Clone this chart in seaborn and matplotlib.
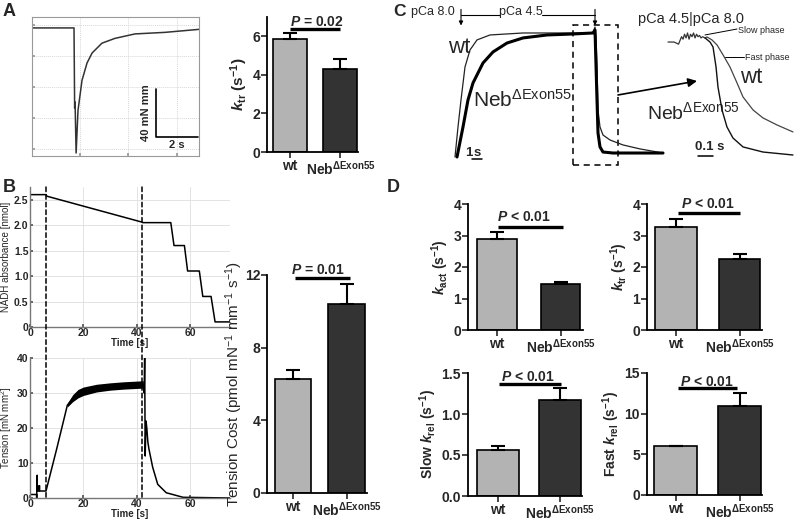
import numpy as np
import matplotlib
matplotlib.use("Agg")
import matplotlib.pyplot as plt
from matplotlib.patches import Rectangle, ConnectionPatch
import seaborn as sns

# ---------------- data ----------------
GROUPS = ["wt", "Neb"]
BAR_COLORS = ["#b3b3b3", "#333333"]
NEB_TICK = r"Neb$^{\mathbf{ΔExon55}}$"

ktr_a = [5.85, 4.3]
ktr_a_err = [0.3, 0.5]
tension_cost = [6.3, 10.4]
tension_cost_err = [0.45, 1.1]
kact = [2.9, 1.45]
kact_err = [0.2, 0.08]
ktr_d = [3.28, 2.26]
ktr_d_err = [0.25, 0.16]
slow_krel = [0.56, 1.17]
slow_krel_err = [0.05, 0.15]
fast_krel = [6.0, 11.0]
fast_krel_err = [0.05, 1.5]

# A: ktr release-restretch force trace (time s, force mN/mm)
a_time = [0, 2.0, 2.03, 2.05, 2.1, 2.19, 2.38, 2.62, 2.86, 3.33, 3.95, 4.9, 6.33, 7.95]
a_force = [106.7, 106.7, 40, 45, 2.5, 38, 63, 77.5, 85.8, 94, 98, 101.7, 103, 105.5]

# B: NADH absorbance (nmol) and tension (mN/mm2) vs time (s)
nadh_time = [0, 6, 6.3, 42, 42.3, 52.8, 54, 57.9, 59.1, 63.5, 64.8, 67.9, 69.4, 75]
nadh_val = [2.6, 2.6, 2.57, 2.06, 2.05, 2.05, 1.6, 1.6, 1.1, 1.1, 0.6, 0.6, 0.1, 0.1]
tens_time = [0, 2.5, 2.5, 2.7, 2.7, 3.3, 3.3, 3.6, 3.6, 6, 10, 14, 16, 20, 25, 30, 35,
             42.5, 42.8, 43.0, 43.2, 43.5, 43.8, 44.2, 44.6, 46, 47.9, 51.1, 57.4, 75]
tens_val = [1, 1, 0, 6.5, 2, 2, 3.5, 3.5, 2, 2, 14, 26.5, 28.5, 30.5, 31.4, 31.8, 32.1,
            32.4, 30, 40, 12, 22, 20, 16, 14, 8.8, 3.9, 1.5, 0.2, 0]
band_time = [14, 16, 18, 20, 25, 30, 35, 42.5]
band_lo = [26, 27.5, 28.6, 29.3, 30.3, 30.8, 31.1, 31.4]
band_hi = [27, 29.5, 31.0, 31.7, 32.5, 32.9, 33.2, 33.5]

# C: activation / relaxation traces (time s, relative force %)
c_wt_t = [0, 0.3, 0.6, 1.0, 1.5, 2.2, 3.5, 6.8, 13.8, 14.0, 14.1, 14.2, 14.3, 14.5,
          14.8, 15.5, 16.8, 18.5, 20.8]
c_wt_f = [0, 24.2, 46, 72.6, 86.3, 94.4, 98.4, 100, 100, 104.8, 96.8, 72.6, 37.9,
          24.2, 17.7, 13.7, 9.7, 6.5, 3.2]
c_neb_t = [0.2, 0.8, 1.3, 1.8, 2.8, 3.8, 5.2, 6.8, 9.2, 11.8, 13.8, 14.0, 14.2, 14.3,
           14.5, 14.8, 15.8, 20.8]
c_neb_f = [0, 24.2, 46, 59.7, 75.8, 84.7, 91.9, 96, 98.4, 99.2, 100, 102.4, 46, 19.4,
           8.1, 4, 3.2, 3.2]
# C inset: expanded relaxation
ins_pre_t = [0, 0.04, 0.07, 0.08, 0.09, 0.1, 0.11, 0.12, 0.13, 0.14, 0.15, 0.16, 0.17,
             0.18, 0.19, 0.2, 0.21, 0.22, 0.23, 0.247]
ins_pre_f = [92.7, 92.7, 91, 94, 97, 95, 99, 96, 100, 95, 99, 97, 100, 96, 99, 97, 98,
             96, 97, 96]
ins_wt_t = [0.247, 0.26, 0.293, 0.327, 0.367, 0.413, 0.46, 0.5, 0.567, 0.633, 0.727, 0.833]
ins_wt_f = [96, 96.8, 94.4, 90.3, 82.3, 72.6, 59.7, 48.4, 37.9, 31.5, 25.8, 20.2]
ins_neb_t = [0.247, 0.28, 0.3, 0.32, 0.333, 0.36, 0.393, 0.433, 0.5, 0.633, 0.833]
ins_neb_f = [96, 92.7, 88.7, 72.6, 56.5, 37.9, 24.2, 15.3, 8.1, 4, 1.6]

# ---------------- style ----------------
sns.set_theme(style="ticks")
plt.rcParams["font.family"] = ["Liberation Sans", "DejaVu Sans"]
plt.rcParams["mathtext.fontset"] = "custom"
plt.rcParams["mathtext.rm"] = "Liberation Sans"
plt.rcParams["mathtext.it"] = "Liberation Sans:italic:bold"
plt.rcParams["mathtext.bf"] = "Liberation Sans:bold"

W, H = 800, 522
fig = plt.figure(figsize=(8, 5.22), dpi=100)


def px_axes(x0, y0, x1, y1):
    return fig.add_axes([x0 / W, 1 - y1 / H, (x1 - x0) / W, (y1 - y0) / H])


def bar_panel(ax, vals, errs, ylim, yticks, ylabel, ptext, pline, ptxt_xy,
              width=0.68, xlim=(-0.46, 1.36), ylabel_kw=None):
    sns.barplot(x=GROUPS, y=vals, hue=GROUPS, palette=BAR_COLORS, legend=False,
                width=width, edgecolor="black", linewidth=1.2, saturation=1, ax=ax)
    ax.errorbar([0, 1], vals, yerr=[[0, 0], errs], fmt="none", ecolor="black",
                elinewidth=1.5, capsize=5, capthick=1.5, zorder=1)
    ax.set_xlim(*xlim)
    ax.set_ylim(*ylim)
    ax.set_yticks(yticks)
    ax.set_xticks([0, 1], labels=["wt", NEB_TICK])
    ax.tick_params(labelsize=10, width=1.2, length=4, pad=1)
    for lab in ax.get_xticklabels() + ax.get_yticklabels():
        lab.set_fontweight("bold")
    kw = dict(fontsize=10, fontweight="bold", labelpad=2)
    if ylabel_kw:
        kw.update(ylabel_kw)
    ax.set_ylabel(ylabel, **kw)
    ax.set_xlabel("")
    for s in ["top", "right"]:
        ax.spines[s].set_visible(False)
    for s in ["left", "bottom"]:
        ax.spines[s].set_linewidth(1.3)
        ax.spines[s].set_color("black")
    x0, x1, yl = pline
    ax.plot([x0, x1], [yl, yl], color="black", lw=2.4, clip_on=False,
            solid_capstyle="butt")
    ax.text(ptxt_xy[0], ptxt_xy[1], ptext, ha="center", va="center", fontsize=10,
            fontweight="bold", clip_on=False)


# ---------------- panel A ----------------
axA = px_axes(32, 17, 199, 156)
axA.plot(a_time, a_force, color="#333333", lw=1.1)
axA.set_xlim(0, 7.95)
axA.set_ylim(0, 115.8)
axA.set_xticks(np.arange(2.29, 7.9, 2.3))
axA.set_yticks(np.arange(5.8, 115, 25.8))
axA.grid(True, color="#d8d8d8", lw=0.7, ls=(0, (1, 1)))
axA.tick_params(direction="in", length=2, labelleft=False, labelbottom=False,
                color="#999999")
for s in axA.spines.values():
    s.set_color("#999999")
    s.set_linewidth(0.8)
axA.plot([5.9, 5.9, 7.9], [55.8, 15.8, 15.8], color="black", lw=1.2)
axA.text(5.45, 35.8, "40 mN mm", rotation=90, ha="center", va="center",
         fontsize=8, fontweight="bold")
axA.text(6.9, 9.0, "2 s", ha="center", va="center", fontsize=8, fontweight="bold")

axAb = px_axes(267, 17, 358, 152)
bar_panel(axAb, ktr_a, ktr_a_err, (0, 7), [0, 2, 4, 6],
          r"$\mathit{k}_{\mathbf{tr}}$ (s$^{\mathbf{-1}}$)", r"$\mathit{P}$ = 0.02",
          (0.0, 1.0, 6.37), (0.53, 6.75), xlim=(-0.46, 1.35), width=0.68,
          ylabel_kw=dict(fontsize=11))

# ---------------- panel B ----------------
def matlab_axes(ax):
    ax.grid(True, color="#e3e3e3", lw=0.7)
    ax.tick_params(direction="in", length=2, labelsize=7.5, pad=1, color="#555555")
    for lab in ax.get_xticklabels() + ax.get_yticklabels():
        lab.set_fontweight("bold")
    for s in ["top", "right"]:
        ax.spines[s].set_visible(False)
    for s in ["left", "bottom"]:
        ax.spines[s].set_color("#777777")
        ax.spines[s].set_linewidth(1.0)


axN = px_axes(30, 187, 230, 327)
axN.plot(nadh_time, nadh_val, color="black", lw=1.1)
axN.set_xlim(0, 75)
axN.set_ylim(0, 2.75)
axN.set_xticks([0, 20, 40, 60])
axN.set_yticks([0, 0.5, 1.0, 1.5, 2.0, 2.5], labels=["0", "0.5", "1.0", "1.5", "2.0", "2.5"])
matlab_axes(axN)
axN.set_xlabel("Time [s]", fontsize=7, fontweight="bold", labelpad=0)
axN.set_ylabel("NADH absorbance [nmol]", fontsize=7, labelpad=2)

axT = px_axes(30, 358, 230, 498)
axT.fill_between(band_time, band_lo, band_hi, color="black", lw=0)
axT.plot(tens_time, tens_val, color="black", lw=1.1)
axT.set_xlim(0, 75)
axT.set_ylim(0, 40)
axT.set_xticks([0, 20, 40, 60])
axT.set_yticks([0, 10, 20, 30, 40])
matlab_axes(axT)
axT.set_xlabel("Time [s]", fontsize=7, fontweight="bold", labelpad=0)
axT.set_ylabel(r"Tension [mN mm$^2$]", fontsize=7, labelpad=2)

for tx in (6, 42):
    con = ConnectionPatch(xyA=(tx, 2.75), coordsA=axN.transData,
                          xyB=(tx, 0), coordsB=axT.transData,
                          ls=(0, (3, 2)), color="black", lw=1.1)
    fig.add_artist(con)

axBb = px_axes(267, 275, 367, 493)
bar_panel(axBb, tension_cost, tension_cost_err, (0, 12), [0, 4, 8, 12],
          r"Tension Cost (pmol mN$^{-1}$ mm$^{-1}$ s$^{-1}$)", r"$\mathit{P}$ = 0.01",
          (0.03, 1.06, 11.83), (0.46, 12.3), xlim=(-0.49, 1.38), width=0.68,
          ylabel_kw=dict(fontsize=11, fontweight="normal", labelpad=0))

# ---------------- panel C ----------------
axC = px_axes(440, 0, 800, 170)
axC.set_xlim(-1.5, 34.5)
axC.set_ylim(-10.5, 126.6)
axC.axis("off")
axC.plot(c_wt_t, c_wt_f, color="#222222", lw=0.9)
axC.plot(c_neb_t, c_neb_f, color="black", lw=2.2)
axC.add_patch(Rectangle((11.8, -6.5), 4.5, 113, fill=False, ls=(0, (4, 3)),
                        lw=1.1, color="black"))
axC.annotate("", xy=(24.2, 61.3), xytext=(16.3, 50),
             arrowprops=dict(arrowstyle="-|>", color="black", lw=1.2,
                             mutation_scale=13, shrinkA=0, shrinkB=0))
# solution change markers
axC.text(0.0, 117, "pCa 8.0", ha="right", va="center", fontsize=9)
axC.text(6.6, 117, "pCa 4.5", ha="center", va="center", fontsize=9)
axC.plot([0.6, 4.5], [114.5, 114.5], color="black", lw=0.8)
axC.plot([8.7, 14.0], [114.5, 114.5], color="black", lw=0.8)
for tx in (0.6, 14.0):
    axC.annotate("", xy=(tx, 106), xytext=(tx, 119),
                 arrowprops=dict(arrowstyle="-|>", color="black", lw=0.8,
                                 mutation_scale=6, shrinkA=0, shrinkB=0))
axC.text(-0.7, 88, "wt", ha="left", va="center", fontsize=16)
axC.text(1.8, 46, r"Neb$^{\mathrm{ΔExon55}}$", ha="left", va="center", fontsize=15)
axC.text(1.0, 3.5, "1", ha="left", va="center", fontsize=9.5, fontweight="bold")
axC.text(2.2, 3.5, "s", ha="center", va="center", fontsize=9.5, fontweight="bold")
axC.plot([1.7, 2.7], [-1.5, -1.5], color="black", lw=1.1)
# inset labels
axC.text(18.3, 111, "pCa 4.5|pCa 8.0", ha="left", va="center", fontsize=10.5)
axC.plot([25.0, 28.2], [98.4, 103.2], color="black", lw=0.7)
axC.text(28.3, 102, "Slow phase", ha="left", va="center", fontsize=6.5)
axC.plot([27.0, 28.9], [80.6, 80.6], color="black", lw=0.7)
axC.text(29.0, 80.6, "Fast phase", ha="left", va="center", fontsize=6.5)
axC.text(28.5, 64.5, "wt", ha="left", va="center", fontsize=16)
axC.text(19.2, 36.3, r"Neb$^{\mathrm{ΔExon55}}$", ha="left", va="center", fontsize=14)
axC.text(25.5, 8, "0.1 s", ha="center", va="center", fontsize=9.5, fontweight="bold")
axC.text(-6.2, 117, "C", ha="left", va="center", fontsize=12.5, fontweight="bold")

axI = px_axes(640, 0, 800, 170)
axI.set_xlim(-0.187, 0.88)
axI.set_ylim(-10.5, 126.6)
axI.axis("off")
axI.plot(ins_pre_t, ins_pre_f, color="#333333", lw=0.9)
axI.plot(ins_wt_t, ins_wt_f, color="#444444", lw=0.9)
axI.plot(ins_neb_t, ins_neb_f, color="#111111", lw=1.0)
axI.plot([0.2, 0.3], [0.5, 0.5], color="black", lw=1.1)

# ---------------- panel D ----------------
axD1 = px_axes(468, 204, 583, 330)
bar_panel(axD1, kact, kact_err, (0, 4), [0, 1, 2, 3, 4],
          r"$\mathit{k}_{\mathbf{act}}$ (s$^{\mathbf{-1}}$)", r"$\mathit{P}$ < 0.01",
          (0.02, 1.04, 3.27), (0.43, 3.58), xlim=(-0.45, 1.35), width=0.62)
axD2 = px_axes(647, 204, 762, 330)
bar_panel(axD2, ktr_d, ktr_d_err, (0, 4), [0, 1, 2, 3, 4],
          r"$\mathit{k}_{\mathbf{tr}}$ (s$^{\mathbf{-1}}$)", r"$\mathit{P}$ < 0.01",
          (0.03, 1.0, 3.71), (0.5, 3.99), xlim=(-0.45, 1.35), width=0.65)
axD3 = px_axes(468, 373, 582, 496)
bar_panel(axD3, slow_krel, slow_krel_err, (0, 1.5), [0.0, 0.5, 1.0, 1.5],
          r"Slow $\mathit{k}_{\mathbf{rel}}$ (s$^{\mathbf{-1}}$)", r"$\mathit{P}$ < 0.01",
          (0.02, 1.02, 1.366), (0.49, 1.45), xlim=(-0.48, 1.36), width=0.68)
axD3.set_yticks([0.0, 0.5, 1.0, 1.5], labels=["0.0", "0.5", "1.0", "1.5"])
for lab in axD3.get_yticklabels():
    lab.set_fontweight("bold")
axD4 = px_axes(647, 373, 762, 495)
bar_panel(axD4, fast_krel, fast_krel_err, (0, 15), [0, 5, 10, 15],
          r"Fast $\mathit{k}_{\mathbf{rel}}$ (s$^{\mathbf{-1}}$)", r"$\mathit{P}$ < 0.01",
          (0.04, 0.96, 13.2), (0.49, 13.9), xlim=(-0.45, 1.35), width=0.68)

# panel letters
for letter, (x, y) in {"A": (3, 12), "B": (3, 188), "D": (387, 188)}.items():
    fig.text(x / W, 1 - y / H, letter, fontsize=13, fontweight="bold",
             ha="left", va="center")

fig.savefig("out.png", dpi=100)
